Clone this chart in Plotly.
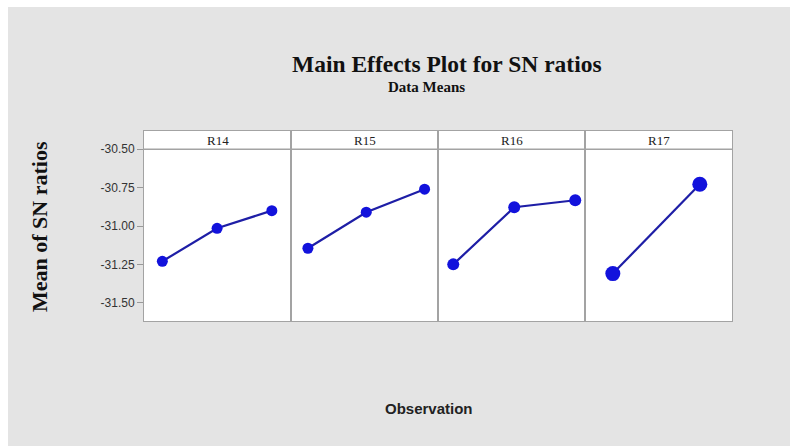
import plotly.graph_objects as go
from plotly.subplots import make_subplots

factors = ["R14", "R15", "R16", "R17"]
levels = {
    "R14": [1, 2, 3],
    "R15": [1, 2, 3],
    "R16": [1, 2, 3],
    "R17": [1, 2],
}
sn_means = {
    "R14": [-31.23, -31.015, -30.90],
    "R15": [-31.145, -30.91, -30.76],
    "R16": [-31.25, -30.878, -30.832],
    "R17": [-31.31, -30.728],
}
y_ticks = [-30.50, -30.75, -31.00, -31.25, -31.50]
y_tick_labels = ["-30.50", "-30.75", "-31.00", "-31.25", "-31.50"]

x_ranges = {
    "R14": [0.665, 3.35],
    "R15": [0.71, 3.23],
    "R16": [0.75, 3.16],
    "R17": [0.68, 2.37],
}
marker_sizes = {"R14": 11, "R15": 11, "R16": 12, "R17": 15}

# body margin removed in the page; figure covers the whole window
W, H = 790, 446
L, R, T, B = 144, 58, 131, 125
pw, ph = W - L - R, H - T - B

fig = make_subplots(rows=1, cols=4, shared_yaxes=True, horizontal_spacing=0)

border = "#a3a3a3"
for i, f in enumerate(factors, start=1):
    fig.add_trace(
        go.Scatter(
            x=levels[f], y=sn_means[f], mode="lines+markers",
            line=dict(color="#1e1ea6", width=2.2),
            marker=dict(color="#1212dc", size=marker_sizes[f]),
            showlegend=False, hoverinfo="skip",
        ),
        row=1, col=i,
    )
    fig.update_xaxes(
        range=x_ranges[f], showline=True, mirror=True, linecolor=border,
        linewidth=1, showgrid=False, zeroline=False, showticklabels=False,
        ticks="", row=1, col=i,
    )
    fig.update_yaxes(
        range=[-31.619, -30.381], showline=True, mirror=True, linecolor=border,
        linewidth=1, showgrid=False, zeroline=False, row=1, col=i,
    )
    fig.add_annotation(
        xref=f"x{'' if i == 1 else i} domain", yref="y",
        x=0.5, y=-30.44, text=f, showarrow=False,
        xanchor="center", yanchor="middle",
        font=dict(family="Liberation Serif", size=13, color="#222"),
    )

fig.update_yaxes(
    tickvals=y_ticks, ticktext=y_tick_labels, ticks="outside", ticklen=6,
    tickcolor="#999", tickfont=dict(family="Liberation Sans", size=12, color="#333"),
    row=1, col=1,
)

shapes = [
    dict(type="line", xref="paper", yref="y", x0=0, x1=1, y0=-30.5, y1=-30.5,
         line=dict(color=border, width=1.5)),
    # white margins at left and top, as in the reference
    dict(type="rect", xref="paper", yref="paper", x0=-L / pw - 0.01, x1=(8 - L) / pw,
         y0=-1, y1=3, fillcolor="white", line=dict(width=0), layer="below"),
    dict(type="rect", xref="paper", yref="paper", x0=-1, x1=2,
         y0=1 + (T - 7) / ph, y1=3, fillcolor="white", line=dict(width=0), layer="below"),
]

annotations = [
    dict(xref="paper", yref="paper", x=(447 - L) / pw, y=1 + (T - 64) / ph,
         text="<b>Main Effects Plot for SN ratios</b>", showarrow=False,
         font=dict(family="Liberation Serif", size=23.5, color="#111")),
    dict(xref="paper", yref="paper", x=(426 - L) / pw, y=1 + (T - 87) / ph,
         text="<b>Data Means</b>", showarrow=False,
         font=dict(family="Liberation Serif", size=15, color="#111")),
    dict(xref="paper", yref="paper", x=(39 - L) / pw, y=1 - (227 - T) / ph,
         text="<b>Mean of SN ratios</b>", showarrow=False, textangle=-90,
         font=dict(family="Liberation Serif", size=22, color="#111")),
    dict(xref="paper", yref="paper", x=(429 - L) / pw, y=-(408 - (T + ph)) / ph,
         text="<b>Observation</b>", showarrow=False,
         font=dict(family="Liberation Sans", size=15, color="#222")),
]
for a in annotations:
    a.update(xanchor="center", yanchor="middle")
    fig.add_annotation(**a)

fig.update_layout(
    width=W, height=H,
    margin=dict(l=L, r=R, t=T, b=B),
    paper_bgcolor="#e4e4e4", plot_bgcolor="white",
    shapes=shapes,
)

fig.write_html(
    "out.html",
    config={"displayModeBar": False},
    post_script="document.body.style.margin='0';document.body.style.overflow='hidden';",
)
